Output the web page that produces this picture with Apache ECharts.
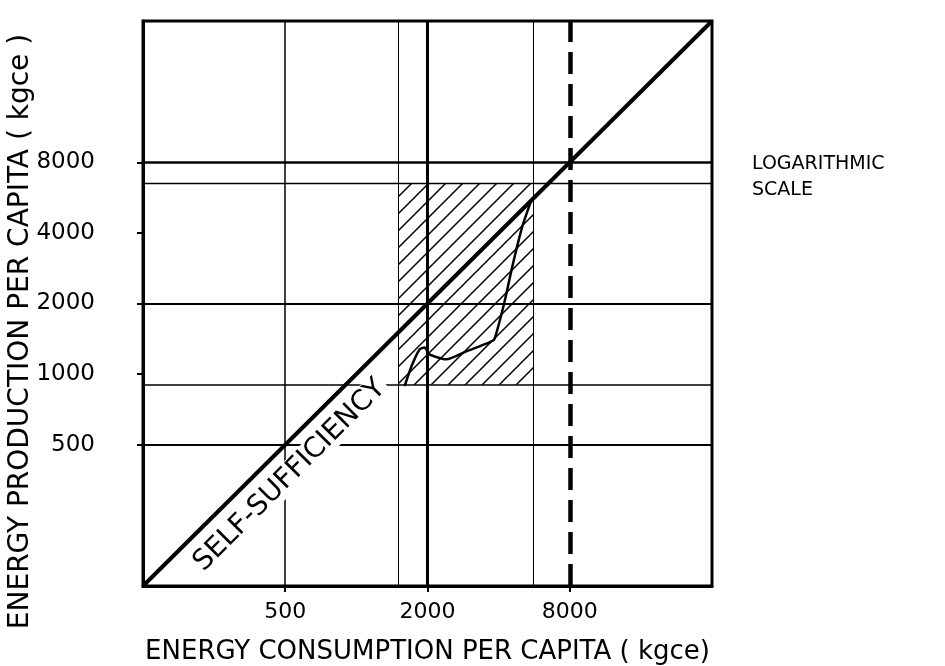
<!DOCTYPE html>
<html><head><meta charset="utf-8">
<script src="https://cdn.jsdelivr.net/npm/echarts@6/dist/echarts.min.js"></script>
<style>html,body{margin:0;padding:0;background:#fff}#c{width:945px;height:666px}</style>
</head><body><div id="c"></div>
<script>
// ---- data ----
const axisMin = 125, axisMax = 32000;
const xTickValues = [500, 2000, 8000];
const yTickValues = [500, 1000, 2000, 4000, 8000];
const selfSufficiency = [[125, 125], [32000, 32000]];
const curveConsumption = [1600, 1711, 1850, 1942, 2039, 2405, 2922, 3654, 3836, 4230, 4570, 5036, 5500];
const curveProduction  = [888, 1080, 1274, 1300, 1214, 1156, 1250, 1366, 1406, 2020, 2872, 4250, 5500];
const verticalRefs   = [500, 1500, 2000, 5600, 8000];
const horizontalRefs = [500, 900, 2000, 6500, 8000];
const hatchX = [1500, 5600];
const hatchY = [900, 6500];
const diagonalLabel = 'SELF-SUFFICIENCY';
const diagonalLabelAt = 375;
const xName = 'ENERGY CONSUMPTION PER CAPITA ( kgce)';
const yName = 'ENERGY PRODUCTION PER CAPITA ( kgce )';
const noteText = 'LOGARITHMIC\nSCALE';

// ---- styles ----
const FONT = 'DejaVu Sans';
const vStyles = {
  500:  {width: 1.5, type: 'solid'},
  1500: {width: 1, type: 'solid'},
  2000: {width: 3, type: 'solid'},
  5600: {width: 1, type: 'solid'},
  8000: {width: 4.5, type: [22, 10]}
};
const hStyles = {
  500:  {width: 2, type: 'solid'},
  900:  {width: 1.5, type: 'solid'},
  2000: {width: 2, type: 'solid'},
  6500: {width: 1.3, type: 'solid'},
  8000: {width: 2.5, type: 'solid'}
};

function hatchPattern() {
  const c = document.createElement('canvas');
  c.width = 17; c.height = 17;
  const g = c.getContext('2d');
  g.strokeStyle = '#000'; g.lineWidth = 1.5;
  g.beginPath();
  g.moveTo(0, 17); g.lineTo(17, 0);
  g.moveTo(-3, 3); g.lineTo(3, -3);
  g.moveTo(14, 20); g.lineTo(20, 14);
  g.stroke();
  return c;
}

const curveData = curveConsumption.map((v, i) => [v, curveProduction[i]]);

const markLineData = [];
verticalRefs.forEach(v => markLineData.push({xAxis: v, lineStyle: Object.assign({color: '#000'}, vStyles[v])}));
horizontalRefs.forEach(v => markLineData.push({yAxis: v, lineStyle: Object.assign({color: '#000'}, hStyles[v])}));

const plain = v => String(Math.round(v));

const chart = echarts.init(document.getElementById('c'), null, {renderer: 'canvas'});
chart.setOption({
  animation: false,
  backgroundColor: '#fff',
  textStyle: {fontFamily: FONT, color: '#000'},
  grid: {left: 143, right: 233, top: 21, bottom: 80, containLabel: false, outerBoundsMode: 'none',
    show: true, borderColor: '#000', borderWidth: 3, backgroundColor: 'transparent'},
  xAxis: {
    type: 'log', logBase: 2, min: axisMin, max: axisMax,
    name: xName, nameLocation: 'middle', nameGap: 53, nameMoveOverlap: false,
    nameTextStyle: {fontSize: 26, color: '#000', fontFamily: FONT},
    axisLine: {lineStyle: {color: '#000', width: 3}},
    axisTick: {customValues: xTickValues, length: 6, lineStyle: {color: '#000', width: 2}},
    axisLabel: {customValues: xTickValues, formatter: plain, fontSize: 22, color: '#000', margin: 15, fontFamily: FONT},
    splitLine: {show: false}, minorTick: {show: false}
  },
  yAxis: {
    type: 'log', logBase: 2, min: axisMin, max: axisMax,
    name: yName, nameLocation: 'middle', nameGap: 108, nameMoveOverlap: false,
    nameTextStyle: {fontSize: 28, color: '#000', fontFamily: FONT, padding: [0, 56, 0, 0]},
    axisLine: {lineStyle: {color: '#000', width: 3}},
    axisTick: {customValues: yTickValues, length: 6, lineStyle: {color: '#000', width: 2}},
    axisLabel: {customValues: yTickValues, formatter: plain, fontSize: 23, color: '#000', margin: 48, fontFamily: FONT},
    splitLine: {show: false}, minorTick: {show: false}
  },
  graphic: [{
    type: 'text', left: 752, top: 151,
    style: {text: noteText, font: '19px "DejaVu Sans"', fill: '#000', lineHeight: 26}
  }],
  series: [
    {
      type: 'line', data: [], z: 1, silent: true,
      markLine: {silent: true, symbol: 'none', label: {show: false}, data: markLineData},
      markArea: {silent: true, itemStyle: {color: {image: hatchPattern(), repeat: 'repeat'}, borderWidth: 0},
        data: [[{coord: [hatchX[0], hatchY[0]]}, {coord: [hatchX[1], hatchY[1]]}]]}
    },
    {
      type: 'line', data: selfSufficiency, z: 3, silent: true,
      symbol: 'none', lineStyle: {color: '#000', width: 4},
      markPoint: {
        silent: true, symbol: 'circle', symbolSize: 0,
        label: {show: true, position: 'inside', formatter: diagonalLabel, rotate: 45, offset: [23, 25],
          fontSize: 28, color: '#000', fontFamily: FONT, backgroundColor: '#fff', padding: [0, 3]},
        data: [{coord: [diagonalLabelAt, diagonalLabelAt]}]
      }
    },
    {
      type: 'line', data: curveData, z: 4, silent: true, smooth: 0.2,
      symbol: 'none', lineStyle: {color: '#000', width: 2.5}
    }
  ]
});
</script></body></html>
